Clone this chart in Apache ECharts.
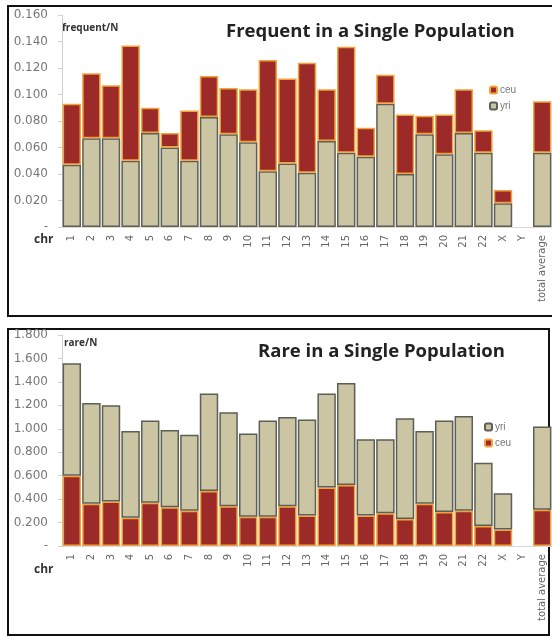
<!DOCTYPE html>
<html>
<head>
<meta charset="utf-8">
<script src="https://cdn.jsdelivr.net/npm/echarts@6/dist/echarts.min.js"></script>
<style>
  html, body { margin: 0; padding: 0; background: #fff; }
  #chart { width: 552px; height: 637px; }
</style>
</head>
<body>
<div id="chart"></div>
<script>
// chromosomes on the x axis, same for both panels
var chrs = ['1','2','3','4','5','6','7','8','9','10','11','12','13','14','15','16','17','18','19','20','21','22','X','Y','total average'];

// top panel: frequent in a single population (per N)
var freqYri = [0.047,0.067,0.067,0.050,0.071,0.060,0.050,0.083,0.070,0.064,0.042,0.048,0.041,0.065,0.056,0.053,0.093,0.040,0.070,0.055,0.071,0.056,0.018,null,0.056];
var freqCeu = [0.046,0.049,0.040,0.087,0.019,0.011,0.038,0.031,0.035,0.040,0.084,0.064,0.083,0.039,0.080,0.022,0.022,0.045,0.014,0.030,0.033,0.017,0.010,null,0.039];

// bottom panel: rare in a single population (per N)
var rareCeu = [0.60,0.36,0.38,0.24,0.37,0.33,0.30,0.47,0.34,0.25,0.25,0.34,0.26,0.50,0.52,0.26,0.28,0.23,0.36,0.29,0.30,0.17,0.14,null,0.31];
var rareYri = [0.96,0.86,0.82,0.74,0.70,0.66,0.65,0.83,0.80,0.71,0.82,0.76,0.82,0.80,0.87,0.65,0.63,0.86,0.62,0.78,0.81,0.54,0.31,null,0.71];

var tan = '#cbc5a4', tanEdge = '#5b5f54';
var red = '#9c2a28', redEdge = '#f2a43a';

function yAxis(idx, max, step) {
  return {
    type: 'value', gridIndex: idx, min: 0, max: max, interval: step,
    axisLine: { show: true, lineStyle: { color: '#d0d0d0' } },
    axisTick: { show: true, length: 4, lineStyle: { color: '#d0d0d0' } },
    splitLine: { show: false },
    axisLabel: {
      margin: 14, fontSize: 12, color: '#777', fontFamily: 'DejaVu Sans',
      formatter: function (v) { return v === 0 ? '-' : v.toFixed(3); }
    }
  };
}

function xAxis(idx) {
  return {
    type: 'category', gridIndex: idx, data: chrs,
    axisLine: { show: true, lineStyle: { color: '#d8d8d8' } },
    axisTick: { show: false },
    axisLabel: { rotate: 90, interval: 0, fontSize: 10, color: '#666', margin: 8, fontFamily: 'DejaVu Sans' }
  };
}

function bars(name, idx, data, fill, edge) {
  return {
    name: name, type: 'bar', xAxisIndex: idx, yAxisIndex: idx, stack: 'p' + idx,
    data: data, barCategoryGap: '6%',
    itemStyle: { color: fill, borderColor: edge, borderWidth: 1.5 }
  };
}

var chart = echarts.init(document.getElementById('chart'));
chart.setOption({
  animation: false,
  title: [
    { text: 'Frequent in a Single Population', left: 221, top: 17,
      textStyle: { fontFamily: 'Open Sans', fontWeight: 'bold', fontSize: 18.5, color: '#222' } },
    { text: 'Rare in a Single Population', left: 253, top: 337,
      textStyle: { fontFamily: 'Open Sans', fontWeight: 'bold', fontSize: 18.5, color: '#222' } }
  ],
  legend: [
    { data: ['ceu', 'yri'], orient: 'vertical', left: 484, top: 80, itemWidth: 7, itemHeight: 7, itemGap: 6,
      textStyle: { fontSize: 10, color: '#777', padding: [0, 0, 0, -2] } },
    { data: ['yri', 'ceu'], orient: 'vertical', left: 479, top: 417, itemWidth: 7, itemHeight: 7, itemGap: 6,
      textStyle: { fontSize: 10, color: '#777', padding: [0, 0, 0, -2] } }
  ],
  grid: [
    { left: 62, top: 15, width: 490, height: 212 },
    { left: 62, top: 335, width: 490, height: 211 }
  ],
  xAxis: [xAxis(0), xAxis(1)],
  yAxis: [yAxis(0, 0.16, 0.02), yAxis(1, 1.8, 0.2)],
  series: [
    bars('yri', 0, freqYri, tan, tanEdge),
    bars('ceu', 0, freqCeu, red, redEdge),
    bars('ceu', 1, rareCeu, red, redEdge),
    bars('yri', 1, rareYri, tan, tanEdge)
  ],
  graphic: [
    { type: 'rect', z: 0, shape: { x: 8, y: 6, width: 600, height: 310 },
      style: { fill: null, stroke: '#111', lineWidth: 2 } },
    { type: 'rect', z: 0, shape: { x: 8, y: 329, width: 541, height: 306 },
      style: { fill: null, stroke: '#111', lineWidth: 2 } },
    { type: 'text', left: 62, top: 23, style: { text: 'frequent/N', font: 'bold 10px "Open Sans"', fill: '#333' } },
    { type: 'text', left: 64, top: 338, style: { text: 'rare/N', font: 'bold 10px "Open Sans"', fill: '#333' } },
    { type: 'text', left: 34, top: 234, style: { text: 'chr', font: 'bold 12px "Open Sans"', fill: '#333' } },
    { type: 'text', left: 34, top: 564, style: { text: 'chr', font: 'bold 12px "Open Sans"', fill: '#333' } }
  ]
});
</script>
</body>
</html>
